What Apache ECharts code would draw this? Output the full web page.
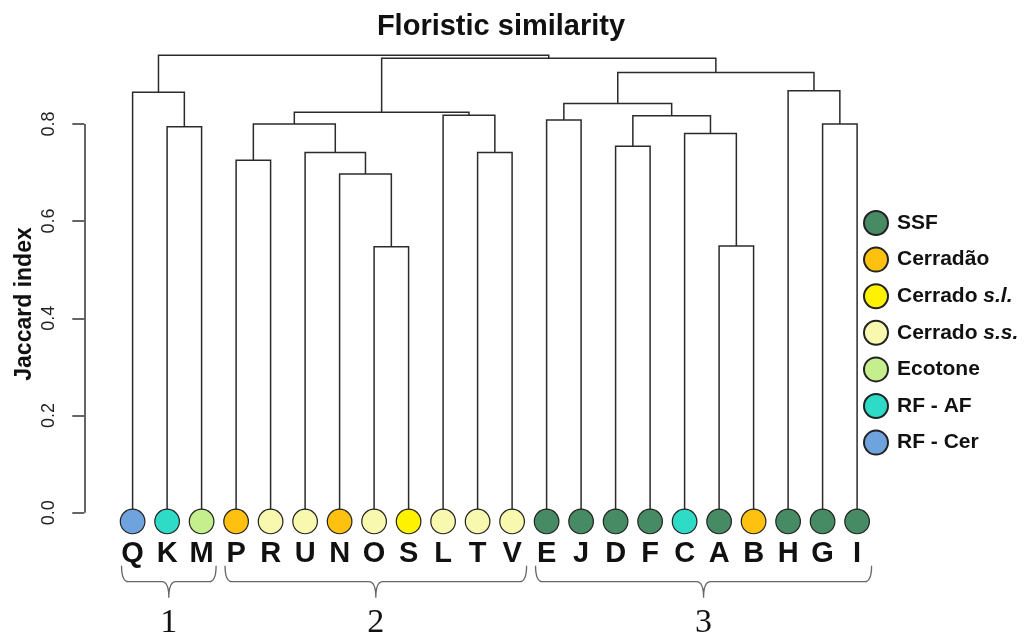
<!DOCTYPE html>
<html>
<head>
<meta charset="utf-8">
<title>Floristic similarity</title>
<script src="https://cdn.jsdelivr.net/npm/echarts@6.0.0/dist/echarts.min.js"></script>
<style>
  html, body { margin: 0; padding: 0; background: #fff; }
  #main { width: 1028px; height: 636px; }
</style>
</head>
<body>
<div id="main"></div>
<script>
// leaves in dendrogram order and the vegetation type of each site
var leaves = ['Q', 'K', 'M', 'P', 'R', 'U', 'N', 'O', 'S', 'L', 'T', 'V',
  'E', 'J', 'D', 'F', 'C', 'A', 'B', 'H', 'G', 'I'];
var leafGroup = ['RF - Cer', 'RF - AF', 'Ecotone', 'Cerradão', 'Cerrado s.s.', 'Cerrado s.s.',
  'Cerradão', 'Cerrado s.s.', 'Cerrado s.l.', 'Cerrado s.s.', 'Cerrado s.s.', 'Cerrado s.s.',
  'SSF', 'SSF', 'SSF', 'SSF', 'RF - AF', 'SSF', 'Cerradão', 'SSF', 'SSF', 'SSF'];

var groupNames = ['SSF', 'Cerradão', 'Cerrado s.l.', 'Cerrado s.s.', 'Ecotone', 'RF - AF', 'RF - Cer'];
var groupColors = ['#468B63', '#FEC10F', '#FFF200', '#F8F8AE', '#C5EE8D', '#2EDBC7', '#6FA3DD'];

// merge table like hclust: negative = leaf (1-based), positive = earlier merge step
var mergeA = [-8, -18, -7, -4, -6, -11, -15, -17, -2, 4, -21, -13, 7, -10, 10, 12, -1, -20, 16, 15, 17];
var mergeB = [-9, -19, 1, -5, 3, -12, -16, 2, -3, 5, -22, -14, 8, 6, 14, 13, 9, 11, 18, 19, 20];
var mergeHeight = [0.547, 0.549, 0.697, 0.725, 0.741, 0.741, 0.754, 0.780, 0.794, 0.800, 0.800,
  0.808, 0.817, 0.818, 0.824, 0.842, 0.865, 0.868, 0.906, 0.935, 0.941];

var yTicks = [0, 0.2, 0.4, 0.6, 0.8];

// groups marked with braces under the labels
var clusterNames = ['1', '2', '3'];
var clusterFirst = [0, 3, 12];
var clusterLast = [2, 11, 21];

var xMin = -1.4, xMax = 22.6;
var leafY = -0.018;
var fontSans = '"Liberation Sans", Arial, sans-serif';

// build the dendrogram segments
var nodeX = [], nodeH = [];
function childPos(id) {
  return id < 0 ? [-id - 1, 0] : [nodeX[id - 1], nodeH[id - 1]];
}
var segments = [];
for (var k = 0; k < mergeA.length; k++) {
  var a = childPos(mergeA[k]), b = childPos(mergeB[k]), h = mergeHeight[k];
  nodeX.push((a[0] + b[0]) / 2);
  nodeH.push(h);
  segments.push({ coords: [[a[0], a[1]], [a[0], h], [b[0], h], [b[0], b[1]]] });
}

var series = [
  {
    type: 'lines',
    coordinateSystem: 'cartesian2d',
    polyline: true,
    silent: true,
    z: 1,
    lineStyle: { color: '#2b2b2b', width: 1.5, opacity: 1 },
    data: segments
  },
  {
    // y axis spine, only from 0 to 0.8 like R
    type: 'lines',
    coordinateSystem: 'cartesian2d',
    silent: true,
    lineStyle: { color: '#333', width: 1.5, opacity: 1 },
    data: [{ coords: [[xMin, yTicks[0]], [xMin, yTicks[yTicks.length - 1]]] }]
  },
  {
    type: 'custom',
    silent: true,
    data: clusterFirst.map(function (f, i) { return [f, clusterLast[i]]; }),
    renderItem: function (params, api) {
      var i = params.dataIndex;
      var l = api.coord([api.value(0) - 0.32, 0]);
      var r = api.coord([api.value(1) + 0.42, 0]);
      var m = (l[0] + r[0]) / 2;
      var y0 = l[1] + 53, y1 = l[1] + 69, y2 = l[1] + 85, c = 7;
      var d = 'M' + l[0] + ',' + y0 + ' Q' + l[0] + ',' + y1 + ' ' + (l[0] + c) + ',' + y1 +
        ' L' + (m - c) + ',' + y1 + ' Q' + m + ',' + y1 + ' ' + m + ',' + y2 +
        ' Q' + m + ',' + y1 + ' ' + (m + c) + ',' + y1 +
        ' L' + (r[0] - c) + ',' + y1 + ' Q' + r[0] + ',' + y1 + ' ' + r[0] + ',' + y0;
      return {
        type: 'group',
        children: [
          { type: 'path', shape: { pathData: d }, style: { fill: null, stroke: '#666', lineWidth: 1.3 } },
          {
            type: 'text',
            style: {
              text: clusterNames[i], x: m, y: l[1] + 110, align: 'center', verticalAlign: 'middle',
              font: 'normal 34px "Liberation Serif", "Times New Roman", serif', fill: '#111'
            }
          }
        ]
      };
    }
  }
];

// one scatter series per vegetation type (gives the legend too)
groupNames.forEach(function (g, gi) {
  var pts = [];
  leaves.forEach(function (name, i) {
    if (leafGroup[i] === g) pts.push([i, leafY, name]);
  });
  series.push({
    name: g,
    type: 'scatter',
    z: 5,
    symbol: 'circle',
    symbolSize: 24.6,
    itemStyle: { color: groupColors[gi], borderColor: '#222', borderWidth: 1.2, opacity: 1 },
    label: {
      show: true,
      position: 'inside',
      offset: [0, 32.5],
      formatter: function (p) { return p.value[2]; },
      fontSize: 29,
      fontWeight: 'bold',
      fontFamily: fontSans,
      color: '#111'
    },
    data: pts
  });
});

var chart = echarts.init(document.getElementById('main'));
chart.setOption({
  animation: false,
  backgroundColor: '#fff',
  grid: { left: 84.3, width: 828, top: 26.7, height: 607.5 },
  xAxis: { type: 'value', min: xMin, max: xMax, show: false },
  yAxis: {
    type: 'value',
    min: -0.25,
    max: 1.0,
    splitLine: { show: false },
    axisLine: { show: false, onZero: false },
    axisTick: { show: true, customValues: yTicks, length: 12, lineStyle: { color: '#333', width: 1.5 } },
    axisLabel: {
      customValues: yTicks,
      rotate: 90,
      align: 'center',
      verticalAlign: 'bottom',
      margin: 26,
      fontSize: 18,
      fontFamily: fontSans,
      color: '#222',
      formatter: function (v) { return v.toFixed(1); }
    }
  },
  legend: {
    orient: 'vertical',
    left: 863,
    top: 210,
    padding: 0,
    itemWidth: 24,
    itemHeight: 24,
    itemGap: 10.6,
    icon: 'circle',
    data: groupNames,
    formatter: function (name) {
      var m = name.match(/^(Cerrado) (s\.[ls]\.)$/);
      return m ? '{n|' + m[1] + ' }{i|' + m[2] + '}' : '{n|' + name + '}';
    },
    textStyle: {
      padding: [0, 0, 0, 4],
      rich: {
        n: { fontSize: 21, fontWeight: 'bold', fontFamily: fontSans, color: '#111', lineHeight: 24 },
        i: { fontSize: 21, fontWeight: 'bold', fontStyle: 'italic', fontFamily: fontSans, color: '#111', lineHeight: 24 }
      }
    }
  },
  graphic: [
    {
      type: 'text',
      x: 501, y: 27,
      style: {
        text: 'Floristic similarity', align: 'center', verticalAlign: 'middle',
        font: 'bold 29px ' + fontSans, fill: '#111'
      }
    },
    {
      type: 'text',
      x: 25, y: 304,
      rotation: Math.PI / 2,
      style: {
        text: 'Jaccard index', align: 'center', verticalAlign: 'middle',
        font: 'bold 23px ' + fontSans, fill: '#111'
      }
    }
  ],
  series: series
});
</script>
</body>
</html>
